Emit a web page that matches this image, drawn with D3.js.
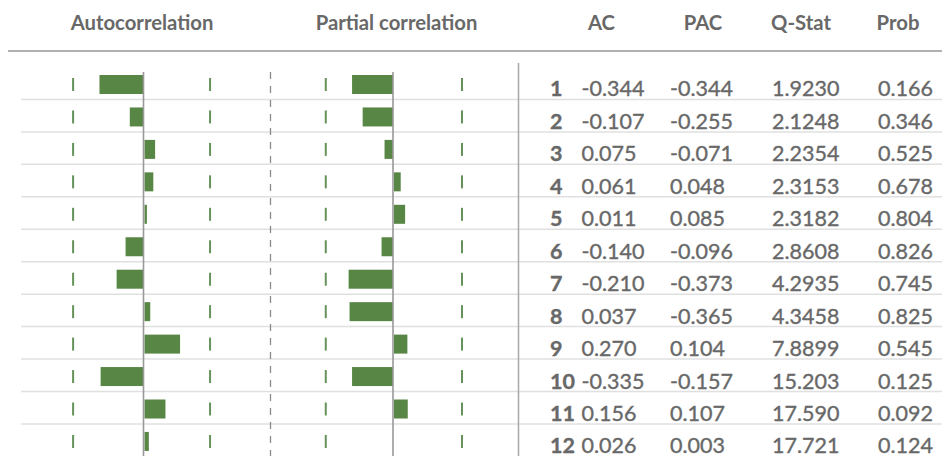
<!DOCTYPE html>
<html>
<head>
<meta charset="utf-8">
<script src="https://cdn.jsdelivr.net/npm/d3@7"></script>
<style>
  body { margin: 0; background: #fff; }
  svg { display: block; font-family: Lato, "Noto Sans", sans-serif; }
</style>
</head>
<body>
<svg id="chart" width="942" height="456"></svg>
<script>
// correlogram data
var lags = [1, 2, 3, 4, 5, 6, 7, 8, 9, 10, 11, 12]
var ac = [-0.344, -0.107, 0.075, 0.061, 0.011, -0.140, -0.210, 0.037, 0.270, -0.335, 0.156, 0.026]
var pac = [-0.344, -0.255, -0.071, 0.048, 0.085, -0.096, -0.373, -0.365, 0.104, -0.157, 0.107, 0.003]
var qStat = [1.9230, 2.1248, 2.2354, 2.3153, 2.3182, 2.8608, 4.2935, 4.3458, 7.8899, 15.203, 17.590, 17.721]
var prob = [0.166, 0.346, 0.525, 0.678, 0.804, 0.826, 0.745, 0.825, 0.545, 0.125, 0.092, 0.124]

// bar lengths as drawn in the partial correlation panel (lag 10 bar differs from its table value)
var pacBars = [-0.344, -0.255, -0.071, 0.048, 0.085, -0.096, -0.373, -0.365, 0.104, -0.344, 0.107, 0]

// confidence bounds shown as the small green ticks
var acBounds = [-0.55, 0.52]
var pacBounds = [-0.565, 0.58]

var headers = ["AC", "PAC", "Q-Stat", "Prob"]

var green = "#588644",
    textGray = "#686868",
    rowLine = "#e0e0e0"

var svg = d3.select("#chart")

var y = d3.scaleBand()
    .domain(lags)
    .range([67, 67 + 12 * 32.45])

var xAc = d3.scaleLinear().domain([-1, 1]).range([143.5 - 128, 143.5 + 128])
var xPac = d3.scaleLinear().domain([-1, 1]).range([393 - 119, 393 + 119])

function title(x, t) {
    svg.append("text")
        .attr("x", x).attr("y", 30)
        .attr("text-anchor", "middle")
        .style("font-size", "20.3px").style("font-weight", "bold")
        .attr("fill", textGray)
        .text(t)
}

// header titles
title(142, "Autocorrelation")
title(396.5, "Partial correlation")

var headX = [601.5, 703, 801, 898]
headers.forEach((h, i) => title(headX[i], h))

// header rule
svg.append("line")
    .attr("x1", 8).attr("x2", 942)
    .attr("y1", 51).attr("y2", 51)
    .attr("stroke", "#b0b0b0").attr("stroke-width", 2)

// row separators
svg.append("g").selectAll("line")
    .data(lags.slice(0, 11))
    .enter().append("line")
    .attr("x1", 21).attr("x2", 942)
    .attr("y1", d => y(d) + y.bandwidth())
    .attr("y2", d => y(d) + y.bandwidth())
    .attr("stroke", rowLine).attr("stroke-width", 1.5)

// panel divider (dashed) and table divider
svg.append("line")
    .attr("x1", 270.5).attr("x2", 270.5)
    .attr("y1", 72).attr("y2", 456)
    .attr("stroke", "#8a8a8a").attr("stroke-width", 1.3)
    .attr("stroke-dasharray", "7,7")

svg.append("line")
    .attr("x1", 518.5).attr("x2", 518.5)
    .attr("y1", 63).attr("y2", 456)
    .attr("stroke", "#a8a8a8").attr("stroke-width", 1.5)

function panel(x, vals, bounds) {
    var g = svg.append("g")
    var barH = 19

    g.selectAll("rect")
        .data(lags)
        .enter().append("rect")
        .attr("x", (d, i) => vals[i] < 0 ? x(vals[i]) : x(0) + 1)
        .attr("y", d => y(d) + 8)
        .attr("width", (d, i) => vals[i] == 0 ? 0 : Math.abs(x(vals[i]) - x(0)) + (vals[i] < 0 ? 0 : 1))
        .attr("height", barH)
        .attr("fill", green)

    // confidence ticks
    bounds.forEach(function(b) {
        g.append("g").selectAll("line")
            .data(lags)
            .enter().append("line")
            .attr("x1", x(b)).attr("x2", x(b))
            .attr("y1", d => y(d) + 11)
            .attr("y2", d => y(d) + 24)
            .attr("stroke", "#65925a").attr("stroke-width", 2)
    })

    // zero line
    g.append("line")
        .attr("x1", x(0)).attr("x2", x(0))
        .attr("y1", 72).attr("y2", 456)
        .attr("stroke", "#999").attr("stroke-width", 1.6)
}

panel(xAc, ac, acBounds)
panel(xPac, pacBars, pacBounds)

// table (plain hyphen for minus, like the original)
var fmt3 = v => d3.format(".3f")(v).replace("\u2212", "-"),
    fmtQ = d3.format(".5r")

var rows = svg.append("g").selectAll("g")
    .data(lags)
    .enter().append("g")
    .attr("transform", d => "translate(0," + (y(d) + y.bandwidth() - 3) + ")")
    .attr("fill", textGray)
    .attr("stroke", textGray)
    .attr("stroke-width", 0.35)
    .style("font-size", "21.5px")

rows.append("text").attr("x", 550).style("font-weight", "bold").text(d => d)
rows.append("text").attr("x", 581.5).text((d, i) => fmt3(ac[i]))
rows.append("text").attr("x", 670).text((d, i) => fmt3(pac[i]))
rows.append("text").attr("x", 772).text((d, i) => fmtQ(qStat[i]))
rows.append("text").attr("x", 878).text((d, i) => fmt3(prob[i]))
</script>
</body>
</html>
